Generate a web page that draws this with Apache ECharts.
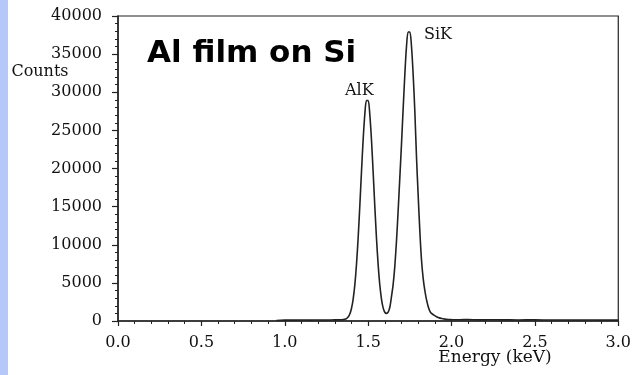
<!DOCTYPE html>
<html>
<head>
<meta charset="utf-8">
<script src="https://cdn.jsdelivr.net/npm/echarts@6/dist/echarts.min.js"></script>
<style>
html,body{margin:0;padding:0;background:#fff;}
#c{width:634px;height:375px;}
</style>
</head>
<body>
<div id="c"></div>
<script>
// Energy (keV)
const energy = [0.95,1.00,1.05,1.10,1.15,1.20,1.25,1.30,1.32,1.34,1.35,1.36,1.37,1.38,1.39,1.40,1.41,1.42,1.43,1.44,1.45,1.46,1.47,1.48,1.49,1.50,1.51,1.52,1.53,1.54,1.55,1.56,1.57,1.58,1.59,1.60,1.61,1.62,1.63,1.64,1.65,1.66,1.67,1.68,1.69,1.70,1.71,1.72,1.73,1.74,1.75,1.76,1.77,1.78,1.79,1.80,1.81,1.82,1.83,1.84,1.85,1.86,1.87,1.88,1.90,1.92,1.94,1.96,1.98,2.00,2.05,2.10,2.15,2.20,2.25,2.30,2.40,2.50,2.60,2.70,2.80,2.90,3.00];
// Counts
const counts = [60,120,110,130,120,140,130,150,150,160,180,220,320,520,920,1640,2850,4700,7380,10880,15050,19530,23760,27080,28910,28910,27080,23760,19530,15050,10880,7390,4720,2880,1720,1150,1000,1150,1800,3200,4800,7200,10500,14500,18800,23200,27850,32300,36000,37900,37900,36000,32300,27500,21500,16500,11800,8000,5600,4000,2800,1900,1300,1000,700,450,330,250,200,180,170,190,160,150,170,150,140,150,130,140,130,120,120];
const xTicks = [0,0.5,1,1.5,2,2.5,3];
const peaks = [[1.495, 28910, 'AlK'], [1.745, 37900, 'SiK']];

const chart = echarts.init(document.getElementById('c'), null, {renderer: 'canvas'});
const serif = 'DejaVu Serif';
const ink = '#111';
chart.setOption({
  backgroundColor: '#fff',
  animation: false,
  grid: {left: 118, right: 11, top: 16, bottom: 54, show: true, borderColor: '#222', borderWidth: 1.2},
  xAxis: {
    type: 'value', min: 0, max: 3, interval: 0.5,
    axisLine: {lineStyle: {color: '#222', width: 1.5}},
    axisTick: {length: 5, lineStyle: {color: '#222', width: 1.2}},
    minorTick: {show: true, splitNumber: 5, length: 3, lineStyle: {color: '#222'}},
    splitLine: {show: false},
    axisLabel: {color: ink, fontFamily: serif, fontSize: 16, margin: 14,
      formatter: v => xTicks.indexOf(v) >= 0 ? v.toFixed(1) : ''}
  },
  yAxis: {
    type: 'value', min: 0, max: 40000, interval: 5000,
    axisLine: {show: true, lineStyle: {color: '#222', width: 1.5}},
    axisTick: {show: true, length: 6, lineStyle: {color: '#222', width: 1.2}},
    minorTick: {show: true, splitNumber: 5, length: 3, lineStyle: {color: '#222'}},
    splitLine: {show: false},
    axisLabel: {color: ink, fontFamily: serif, fontSize: 16, margin: 16, formatter: v => String(v)}
  },
  series: [
    {
      type: 'line',
      data: energy.map((e, i) => [e, counts[i]]),
      showSymbol: false, smooth: 0.3,
      lineStyle: {color: '#222', width: 1.6}
    },
    {
      type: 'scatter',
      data: peaks,
      symbolSize: 0,
      itemStyle: {opacity: 1},
      label: {
        show: true, position: 'inside', color: ink, opacity: 1, textBorderWidth: 0, fontFamily: serif, fontSize: 16,
        formatter: p => p.value[2]
      },
      labelLayout: function (p) {
        return p.dataIndex === 0 ? {dx: -8, dy: -10} : {dx: 29, dy: 3};
      }
    }
  ],
  graphic: [
    {type: 'rect', left: 0, top: 0, shape: {width: 8, height: 375}, style: {fill: '#b4c8fa'}},
    {type: 'text', x: 147, y: 54, style: {text: 'Al film on Si', fontFamily: 'DejaVu Sans', fontWeight: 'bold', fontSize: 31, fill: '#000', textVerticalAlign: 'middle'}},
    {type: 'text', x: 40, y: 72, style: {text: 'Counts', fontFamily: serif, fontSize: 16, fill: ink, textAlign: 'center', textVerticalAlign: 'middle'}},
    {type: 'text', x: 495, y: 358, style: {text: 'Energy (keV)', fontFamily: serif, fontSize: 17, fill: ink, textAlign: 'center', textVerticalAlign: 'middle'}}
  ]
});
</script>
</body>
</html>
